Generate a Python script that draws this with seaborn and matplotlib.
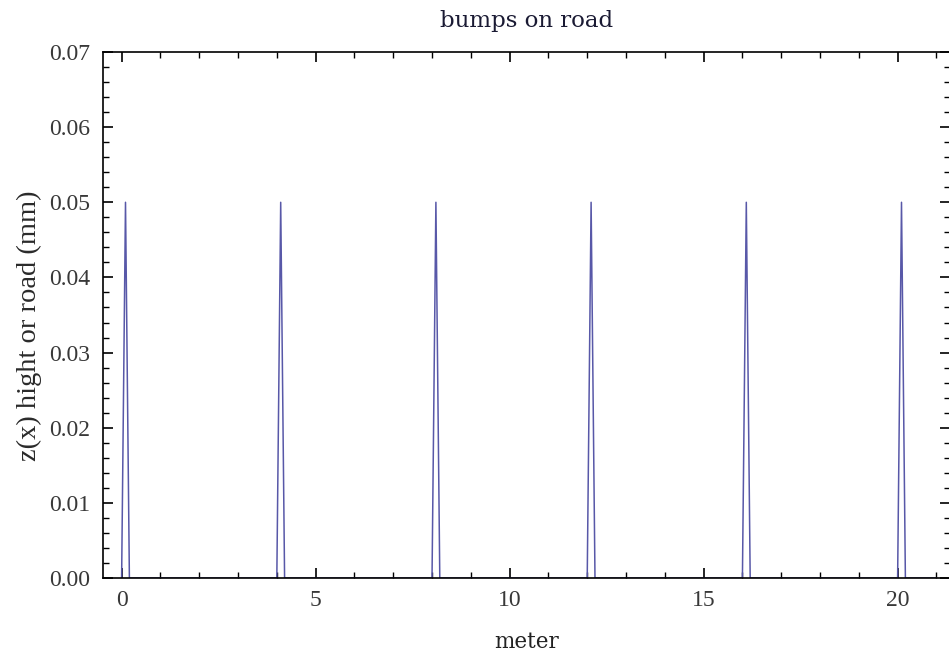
import matplotlib
matplotlib.use("Agg")
import matplotlib.pyplot as plt
import seaborn as sns
import pandas as pd
from matplotlib.ticker import MultipleLocator, FormatStrFormatter

# Data: triangular bumps on the road (x in metres, z in mm)
x_m = [0.0, 0.1, 0.2, 4.0, 4.1, 4.2, 8.0, 8.1, 8.2, 12.0, 12.1, 12.2,
       16.0, 16.1, 16.2, 20.0, 20.1, 20.2, 21.0]
z_mm = [0.0, 0.05, 0.0, 0.0, 0.05, 0.0, 0.0, 0.05, 0.0, 0.0, 0.05, 0.0,
        0.0, 0.05, 0.0, 0.0, 0.05, 0.0, 0.0]
x_ticks = [0, 5, 10, 15, 20]
y_ticks = [0.00, 0.01, 0.02, 0.03, 0.04, 0.05, 0.06, 0.07]

df = pd.DataFrame({"meter": x_m, "z": z_mm})

sns.set_theme(style="white")
plt.rcParams['font.family'] = ['Liberation Serif', 'DejaVu Serif']

fig = plt.figure(figsize=(9.49, 6.58), dpi=100)
ax = fig.add_axes([103/949, 1 - 578/658, 847/949, 526/658])

sns.lineplot(data=df, x="meter", y="z", ax=ax, sort=False, estimator=None,
             color="#5858a8", linewidth=1.1)

ax.set_xlim(-0.48, 21.35)
ax.set_ylim(0, 0.07)
ax.set_xticks(x_ticks)
ax.set_yticks(y_ticks)
ax.xaxis.set_minor_locator(MultipleLocator(1))
ax.yaxis.set_minor_locator(MultipleLocator(0.002))
ax.yaxis.set_major_formatter(FormatStrFormatter('%.2f'))

ax.tick_params(which='both', direction='in', top=True, right=True,
               bottom=True, left=True, color='black', labelsize=17,
               labelcolor='#383838')
ax.tick_params(which='major', length=7, width=1.2)
ax.tick_params(which='minor', length=4, width=1.0)
ax.tick_params(axis='x', pad=9)
ax.tick_params(axis='y', pad=9)

for s in ax.spines.values():
    s.set_color('black')
    s.set_linewidth(1.2)

ax.set_xlabel("meter", fontsize=15.5, color='#222222', labelpad=14,
              family=['DejaVu Serif'])
ax.set_ylabel("z(x) hight or road (mm)", fontsize=20.5, color='#2a2a2a',
              labelpad=5)
ax.yaxis.set_label_coords(-0.072, 0.48)
ax.set_title("bumps on road", fontsize=16.5, color='#1a1a33', pad=18,
             family=['DejaVu Serif'])

fig.savefig("out.png", dpi=100)
